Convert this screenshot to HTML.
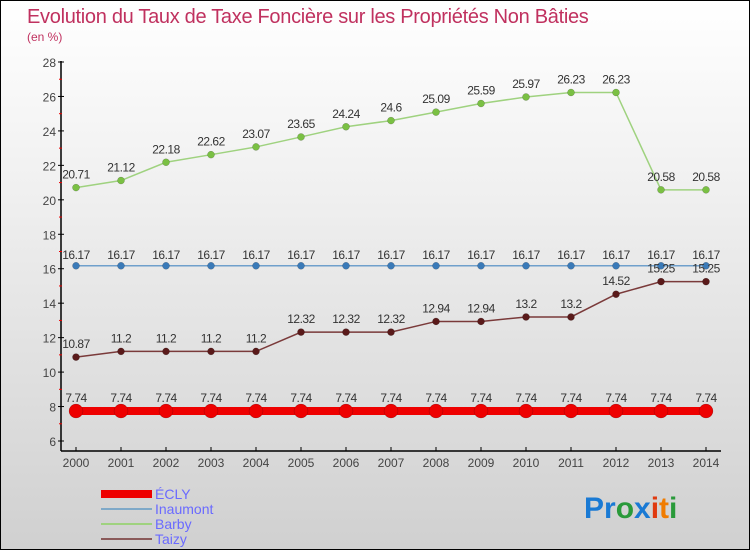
<!DOCTYPE html>
<html><head><meta charset="utf-8"><style>
body{margin:0}
#wrap{position:relative;width:748px;height:548px;border:1px solid #000;background:linear-gradient(#fff 0%,#f2f2f2 30%,#d0d0d0 100%);font-family:"Liberation Sans",sans-serif;overflow:hidden}
svg text{font-family:"Liberation Sans",sans-serif}
</style></head><body>
<div id="wrap">
<svg id="c" width="748" height="548">
<text x="26" y="22" font-size="20" fill="#c0315f" letter-spacing="-0.3">Evolution du Taux de Taxe Foncière sur les Propriétés Non Bâties</text>
<text x="26" y="40" font-size="12" fill="#c0315f">(en %)</text>
<g id="g"></g>
<g>
<rect x="100" y="489" width="51" height="8" fill="#e00"/>
<text x="154" y="498" font-size="14" fill="#6a6aff">ÉCLY</text>
<rect x="100" y="507" width="51" height="2" fill="#7fa9c8"/>
<text x="154" y="513" font-size="14" fill="#6a6aff">Inaumont</text>
<rect x="100" y="522" width="51" height="2" fill="#9fd27f"/>
<text x="154" y="528" font-size="14" fill="#6a6aff">Barby</text>
<rect x="100" y="537" width="51" height="2" fill="#8a5a5a"/>
<text x="154" y="543" font-size="14" fill="#6a6aff">Taizy</text>
</g>
<g>
<text x="583" y="517" font-size="30" font-weight="bold"><tspan fill="#1a7ad4">Pr</tspan><tspan fill="#2a9a3a">o</tspan><tspan fill="#1a7ad4">x</tspan><tspan fill="#e03a10">i</tspan><tspan fill="#f07c00">t</tspan><tspan fill="#2a9a3a">i</tspan></text>
</g>
</svg>
</div>
<script>
const years=[2000,2001,2002,2003,2004,2005,2006,2007,2008,2009,2010,2011,2012,2013,2014];
const ecly=[7.74,7.74,7.74,7.74,7.74,7.74,7.74,7.74,7.74,7.74,7.74,7.74,7.74,7.74,7.74];
const inaumont=[16.17,16.17,16.17,16.17,16.17,16.17,16.17,16.17,16.17,16.17,16.17,16.17,16.17,16.17,16.17];
const barby=[20.71,21.12,22.18,22.62,23.07,23.65,24.24,24.6,25.09,25.59,25.97,26.23,26.23,20.58,20.58];
const taizy=[10.87,11.2,11.2,11.2,11.2,12.32,12.32,12.32,12.94,12.94,13.2,13.2,14.52,15.25,15.25];
const yTicks=[6,8,10,12,14,16,18,20,22,24,26,28];
const NS="http://www.w3.org/2000/svg";
const g=document.getElementById('g');
const X=i=>75+i*45;
const Y=v=>440-(v-6)*(379/22);
function el(t,a){const e=document.createElementNS(NS,t);for(const k in a)e.setAttribute(k,a[k]);g.appendChild(e);return e;}
let a=el('line',{x1:60,y1:60,x2:60,y2:450,stroke:'#000','stroke-width':1.5});


a=el('line',{x1:60,y1:450,x2:720,y2:450,stroke:'#000','stroke-width':1.5});


yTicks.forEach((v,i)=>{
 el('line',{x1:57,y1:Y(v),x2:63,y2:Y(v),stroke:'#000'});
 if(i<yTicks.length-1)el('line',{x1:58,y1:Y(v+1),x2:61,y2:Y(v+1),stroke:'#e00'});
 const t=el('text',{x:55,y:Y(v)+5,'font-size':12,fill:'#444','text-anchor':'end'});t.textContent=v;
 
 
});
years.forEach((yr,i)=>{
 el('line',{x1:X(i),y1:446,x2:X(i),y2:450,stroke:'#000'});
 const t=el('text',{x:X(i),y:466,'font-size':12,fill:'#444','text-anchor':'middle'});t.textContent=yr;
 
 
});
function series(name,vals,color,w,r,dot,labOff){
 const p=el('polyline',{points:vals.map((v,i)=>X(i)+','+Y(v)).join(' '),fill:'none',stroke:color,'stroke-width':w});
 
 
 vals.forEach((v,i)=>{
  const c=el('circle',{cx:X(i),cy:Y(v),r:r,fill:dot,stroke:'rgba(0,0,0,0.3)','stroke-width':0.5});
  
  
  const t=el('text',{x:X(i),y:Y(v)+labOff,'font-size':12,fill:'#333','text-anchor':'middle','letter-spacing':'-0.5'});t.textContent=String(v);
  
  
 });
}
series('inaumont',inaumont,'#6fa0cc',1.5,3.5,'#3a7ab8',-7);
series('barby',barby,'#9fd27f',1.5,3.5,'#7ac043',-9);
series('taizy',taizy,'#7a3a3a',1.5,3.5,'#5a1a1a',-9);
series('ecly',ecly,'#ee0000',8,7,'#e00',-9);
</script>
</body></html>
